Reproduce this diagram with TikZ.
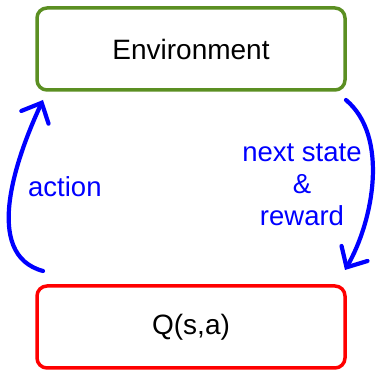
\documentclass[tikz,border=0pt]{standalone}
\usepackage{fontspec}
\setmainfont{Liberation Sans}
\usetikzlibrary{positioning,calc,arrows.meta}
\definecolor{EnvGreen}{HTML}{5B8F22}
\definecolor{QRed}{HTML}{FF0000}
\definecolor{LoopBlue}{HTML}{0000FF}

\begin{document}
\begin{tikzpicture}[
  x=1pt, y=1pt,
  box/.style={draw, line width=3.5pt, rounded corners=10pt, outer sep=0pt,
              minimum width=308pt, minimum height=82pt,
              font=\fontsize{28}{32}\selectfont},
  lbl/.style={text=LoopBlue, inner sep=0pt, font=\fontsize{27.5}{32}\selectfont},
  loop/.style={draw=LoopBlue, line width=4.2pt, line cap=round,
               -{Straight Barb[length=16pt,width=30pt,line cap=round]}}
]
\useasboundingbox (0,0) rectangle (376,370);

\node[box, draw=EnvGreen] (env) at (191,321) {Environment};
\node[box, draw=QRed, below=196pt of env] (q) {Q(s,a)};

\coordinate (actfrom) at ($(q.north west)+(6,15)$);
\coordinate (actto)   at ($(env.south west)+(6,-10)$);
\coordinate (obsfrom) at ($(env.south east)+(1,-10)$);
\coordinate (obsto)   at ($(q.north east)+(0,16)$);

\draw[loop] (actfrom) to[out=165, in=-115, looseness=0.95] (actto);
\draw[loop] (obsfrom) to[out=-40, in=60, looseness=0.85] (obsto);

\node[lbl, anchor=base west] (act) at (28,173) {action};
\node[lbl, align=center] (nsr) at (302,185) {next state\\\&\\reward};
\end{tikzpicture}
\end{document}
